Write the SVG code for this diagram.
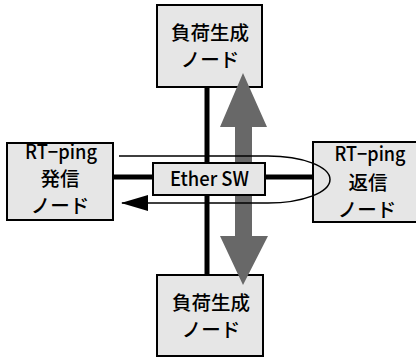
<svg xmlns="http://www.w3.org/2000/svg" width="416" height="358" viewBox="0 0 416 358">
<style>
.box{fill:#e6e6e6;stroke:#000;stroke-width:2}
.t{font-family:"Noto Sans CJK JP","Liberation Sans",sans-serif;font-size:19.5px;font-weight:500;fill:#000;text-anchor:middle}
.bus{stroke:#000;stroke-width:5;fill:none}
.ping{stroke:#000;stroke-width:1.5;fill:none}
</style>
<defs>
<marker id="ah" markerUnits="userSpaceOnUse" markerWidth="27" markerHeight="16" refX="26" refY="8" orient="auto" viewBox="0 0 27 16">
<path d="M0,0 L27,8 L0,16 Z" fill="#000"/>
</marker>
</defs>
<rect width="416" height="358" fill="#fff"/>
<g id="connectors">
<line class="bus" x1="207" y1="87" x2="207" y2="275"/>
<line class="bus" x1="113" y1="177" x2="313" y2="177"/>
</g>
<g id="load-top">
<rect class="box" x="157" y="5" width="105" height="82"/>
<text class="t" x="210" y="40">負荷生成</text>
<text class="t" x="210" y="67">ノード</text>
</g>
<g id="load-bottom">
<rect class="box" x="157" y="275" width="106" height="81"/>
<text class="t" x="211" y="310">負荷生成</text>
<text class="t" x="211" y="337">ノード</text>
</g>
<g id="ping-sender">
<rect class="box" x="7" y="143" width="106" height="77"/>
<text class="t" x="61" y="159" textLength="72" lengthAdjust="spacingAndGlyphs">RT−ping</text>
<text class="t" x="60" y="186">発信</text>
<text class="t" x="60" y="213">ノード</text>
</g>
<g id="ping-responder">
<rect class="box" x="313" y="142" width="116" height="80"/>
<text class="t" x="370" y="161" textLength="71" lengthAdjust="spacingAndGlyphs">RT−ping</text>
<text class="t" x="368" y="190">返信</text>
<text class="t" x="367" y="217">ノード</text>
</g>
<g id="flows">
<path d="M243,73 L267,127 L252,127 L252,236 L268,236 L243,285 L220,236 L235,236 L235,127 L220,127 Z" fill="#686868"/>
</g>
<g id="ether-sw">
<rect class="box" x="153" y="163" width="112" height="32"/>
<text class="t" x="209.5" y="186" textLength="79" lengthAdjust="spacingAndGlyphs">Ether SW</text>
</g>
<g id="ping-loop">
<path class="ping" d="M119,156 H268 A62,23.5 0 0 1 268,203 H122" marker-end="url(#ah)"/>
</g>
</svg>
